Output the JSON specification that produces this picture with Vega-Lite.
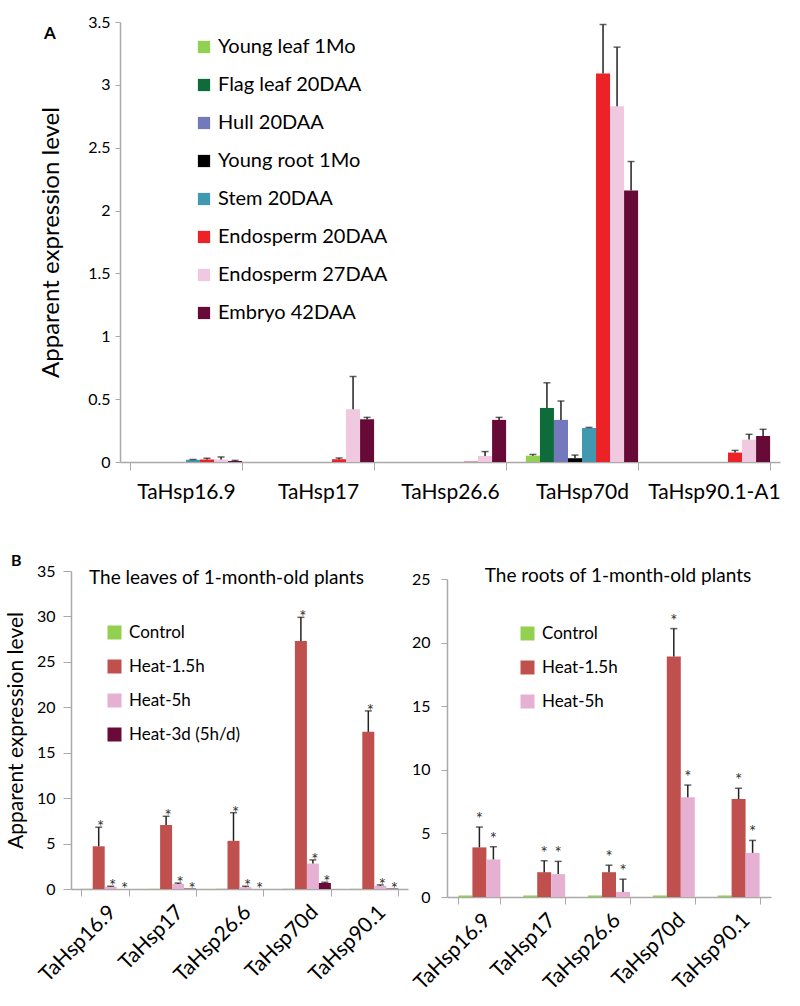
{
  "$schema": "https://vega.github.io/schema/vega-lite/v6.json",
  "padding": {"left": 5, "top": 14, "right": 5, "bottom": 5},
  "autosize": {"type": "pad"},
  "bounds": "flush",
  "spacing": 109,
  "config": {
    "font": "Lato",
    "view": {"stroke": null},
    "axis": {"grid": false, "domainColor": "#a9a9a9", "tickColor": "#a9a9a9", "labelColor": "#000000", "titleColor": "#000000", "titleFontWeight": "normal", "labelFont": "Lato", "titleFont": "Lato"},
    "legend": {"labelFont": "Lato", "labelColor": "#000000", "symbolType": "square", "symbolStrokeWidth": 0, "symbolOpacity": 1, "padding": 0, "labelLimit": 0},
    "title": {"font": "Lato", "color": "#000000"}
  },
  "datasets": {
    "a": [
      {"gene": "TaHsp16.9", "tissue": "Young leaf 1Mo", "v": 0},
      {"gene": "TaHsp16.9", "tissue": "Flag leaf  20DAA", "v": 0},
      {"gene": "TaHsp16.9", "tissue": "Hull 20DAA", "v": 0},
      {"gene": "TaHsp16.9", "tissue": "Young root 1Mo", "v": 0},
      {"gene": "TaHsp16.9", "tissue": "Stem 20DAA", "v": 0.018, "e": 0.02},
      {"gene": "TaHsp16.9", "tissue": "Endosperm 20DAA", "v": 0.02, "e": 0.03},
      {"gene": "TaHsp16.9", "tissue": "Endosperm 27DAA", "v": 0.02, "e": 0.04},
      {"gene": "TaHsp16.9", "tissue": "Embryo 42DAA", "v": 0.008, "e": 0.013},
      {"gene": "TaHsp17", "tissue": "Young leaf 1Mo", "v": 0},
      {"gene": "TaHsp17", "tissue": "Flag leaf  20DAA", "v": 0},
      {"gene": "TaHsp17", "tissue": "Hull 20DAA", "v": 0},
      {"gene": "TaHsp17", "tissue": "Young root 1Mo", "v": 0},
      {"gene": "TaHsp17", "tissue": "Stem 20DAA", "v": 0},
      {"gene": "TaHsp17", "tissue": "Endosperm 20DAA", "v": 0.022, "e": 0.032},
      {"gene": "TaHsp17", "tissue": "Endosperm 27DAA", "v": 0.42, "e": 0.68},
      {"gene": "TaHsp17", "tissue": "Embryo 42DAA", "v": 0.34, "e": 0.355},
      {"gene": "TaHsp26.6", "tissue": "Young leaf 1Mo", "v": 0},
      {"gene": "TaHsp26.6", "tissue": "Flag leaf  20DAA", "v": 0},
      {"gene": "TaHsp26.6", "tissue": "Hull 20DAA", "v": 0},
      {"gene": "TaHsp26.6", "tissue": "Young root 1Mo", "v": 0},
      {"gene": "TaHsp26.6", "tissue": "Stem 20DAA", "v": 0},
      {"gene": "TaHsp26.6", "tissue": "Endosperm 20DAA", "v": 0.003},
      {"gene": "TaHsp26.6", "tissue": "Endosperm 27DAA", "v": 0.048, "e": 0.083},
      {"gene": "TaHsp26.6", "tissue": "Embryo 42DAA", "v": 0.335, "e": 0.355},
      {"gene": "TaHsp70d", "tissue": "Young leaf 1Mo", "v": 0.05, "e": 0.06},
      {"gene": "TaHsp70d", "tissue": "Flag leaf  20DAA", "v": 0.43, "e": 0.63},
      {"gene": "TaHsp70d", "tissue": "Hull 20DAA", "v": 0.335, "e": 0.485},
      {"gene": "TaHsp70d", "tissue": "Young root 1Mo", "v": 0.03, "e": 0.055},
      {"gene": "TaHsp70d", "tissue": "Stem 20DAA", "v": 0.27, "e": 0.275},
      {"gene": "TaHsp70d", "tissue": "Endosperm 20DAA", "v": 3.09, "e": 3.48},
      {"gene": "TaHsp70d", "tissue": "Endosperm 27DAA", "v": 2.83, "e": 3.3},
      {"gene": "TaHsp70d", "tissue": "Embryo 42DAA", "v": 2.16, "e": 2.39},
      {"gene": "TaHsp90.1-A1", "tissue": "Young leaf 1Mo", "v": 0},
      {"gene": "TaHsp90.1-A1", "tissue": "Flag leaf  20DAA", "v": 0},
      {"gene": "TaHsp90.1-A1", "tissue": "Hull 20DAA", "v": 0},
      {"gene": "TaHsp90.1-A1", "tissue": "Young root 1Mo", "v": 0},
      {"gene": "TaHsp90.1-A1", "tissue": "Stem 20DAA", "v": 0},
      {"gene": "TaHsp90.1-A1", "tissue": "Endosperm 20DAA", "v": 0.075, "e": 0.092},
      {"gene": "TaHsp90.1-A1", "tissue": "Endosperm 27DAA", "v": 0.178, "e": 0.22},
      {"gene": "TaHsp90.1-A1", "tissue": "Embryo 42DAA", "v": 0.207, "e": 0.26}
    ],
    "bl": [
      {"gene": "TaHsp16.9", "trt": "Control", "v": 0.02},
      {"gene": "TaHsp16.9", "trt": "Heat-1.5h", "v": 4.7, "e": 6.8, "top": 6.8, "sig": "*"},
      {"gene": "TaHsp16.9", "trt": "Heat-5h", "v": 0.25, "e": 0.3, "top": 0.3, "sig": "*"},
      {"gene": "TaHsp16.9", "trt": "Heat-3d (5h/d)", "v": 0, "top": 0, "sig": "*"},
      {"gene": "TaHsp17", "trt": "Control", "v": 0.02},
      {"gene": "TaHsp17", "trt": "Heat-1.5h", "v": 7.05, "e": 8.0, "top": 8.0, "sig": "*"},
      {"gene": "TaHsp17", "trt": "Heat-5h", "v": 0.55, "e": 0.65, "top": 0.65, "sig": "*"},
      {"gene": "TaHsp17", "trt": "Heat-3d (5h/d)", "v": 0.05, "top": 0.05, "sig": "*"},
      {"gene": "TaHsp26.6", "trt": "Control", "v": 0.02},
      {"gene": "TaHsp26.6", "trt": "Heat-1.5h", "v": 5.3, "e": 8.4, "top": 8.4, "sig": "*"},
      {"gene": "TaHsp26.6", "trt": "Heat-5h", "v": 0.2, "e": 0.3, "top": 0.3, "sig": "*"},
      {"gene": "TaHsp26.6", "trt": "Heat-3d (5h/d)", "v": 0, "top": 0, "sig": "*"},
      {"gene": "TaHsp70d", "trt": "Control", "v": 0.02},
      {"gene": "TaHsp70d", "trt": "Heat-1.5h", "v": 27.3, "e": 29.9, "top": 29.9, "sig": "*"},
      {"gene": "TaHsp70d", "trt": "Heat-5h", "v": 2.8, "e": 3.2, "top": 3.2, "sig": "*"},
      {"gene": "TaHsp70d", "trt": "Heat-3d (5h/d)", "v": 0.65, "e": 0.75, "top": 0.75, "sig": "*"},
      {"gene": "TaHsp90.1", "trt": "Control", "v": 0.02},
      {"gene": "TaHsp90.1", "trt": "Heat-1.5h", "v": 17.3, "e": 19.6, "top": 19.6, "sig": "*"},
      {"gene": "TaHsp90.1", "trt": "Heat-5h", "v": 0.35, "e": 0.45, "top": 0.45, "sig": "*"},
      {"gene": "TaHsp90.1", "trt": "Heat-3d (5h/d)", "v": 0.05, "top": 0.05, "sig": "*"}
    ],
    "br": [
      {"gene": "TaHsp16.9", "trt": "Control", "v": 0.12},
      {"gene": "TaHsp16.9", "trt": "Heat-1.5h", "v": 3.9, "e": 5.5, "sig": "*"},
      {"gene": "TaHsp16.9", "trt": "Heat-5h", "v": 2.95, "e": 3.95, "sig": "*"},
      {"gene": "TaHsp17", "trt": "Control", "v": 0.12},
      {"gene": "TaHsp17", "trt": "Heat-1.5h", "v": 1.95, "e": 2.85, "sig": "*"},
      {"gene": "TaHsp17", "trt": "Heat-5h", "v": 1.8, "e": 2.8, "sig": "*"},
      {"gene": "TaHsp26.6", "trt": "Control", "v": 0.12},
      {"gene": "TaHsp26.6", "trt": "Heat-1.5h", "v": 1.95, "e": 2.5, "sig": "*"},
      {"gene": "TaHsp26.6", "trt": "Heat-5h", "v": 0.4, "e": 1.4, "sig": "*"},
      {"gene": "TaHsp70d", "trt": "Control", "v": 0.12},
      {"gene": "TaHsp70d", "trt": "Heat-1.5h", "v": 18.9, "e": 21.1, "sig": "*"},
      {"gene": "TaHsp70d", "trt": "Heat-5h", "v": 7.85, "e": 8.8, "sig": "*"},
      {"gene": "TaHsp90.1", "trt": "Control", "v": 0.12},
      {"gene": "TaHsp90.1", "trt": "Heat-1.5h", "v": 7.7, "e": 8.55, "sig": "*"},
      {"gene": "TaHsp90.1", "trt": "Heat-5h", "v": 3.47, "e": 4.45, "sig": "*"}
    ]
  },
  "resolve": {"scale": {"color": "independent", "x": "independent", "y": "independent", "xOffset": "independent"}, "legend": {"color": "independent"}, "axis": {"x": "independent", "y": "independent"}},
  "vconcat": [
    {
      "width": 709,
      "height": 440,
      "data": {"name": "a"},
      "title": {"text": "A", "anchor": "start", "frame": "group", "orient": "top", "offset": 0, "fontSize": 17, "fontWeight": "bold", "dx": -27, "dy": 29},
      "encoding": {
        "x": {"field": "gene", "type": "nominal",
              "scale": {"domain": ["TaHsp16.9", "TaHsp17", "TaHsp26.6", "TaHsp70d", "TaHsp90.1-A1"], "range": [49, 709], "paddingInner": 0.15, "paddingOuter": 0.075},
              "axis": {"title": null, "labelAngle": 0, "labelFontSize": 21, "tickBand": "extent", "tickSize": 8, "labelPadding": 11, "domainWidth": 1.5}},
        "xOffset": {"field": "tissue", "type": "nominal", "scale": {"domain": ["Young leaf 1Mo", "Flag leaf  20DAA", "Hull 20DAA", "Young root 1Mo", "Stem 20DAA", "Endosperm 20DAA", "Endosperm 27DAA", "Embryo 42DAA"], "paddingInner": 0, "paddingOuter": 0}}
      },
      "layer": [
        {
          "mark": {"type": "bar"},
          "encoding": {
            "y": {"field": "v", "type": "quantitative", "scale": {"domain": [0, 3.5], "nice": false},
                  "axis": {"title": "Apparent expression level", "titleFontSize": 24, "titlePadding": 24, "offset": -49, "values": [0, 0.5, 1, 1.5, 2, 2.5, 3, 3.5], "format": "~g", "labelFontSize": 16, "tickSize": 5, "labelPadding": 5, "domainWidth": 1.5}},
            "color": {"field": "tissue", "type": "nominal",
                      "scale": {"domain": ["Young leaf 1Mo", "Flag leaf  20DAA", "Hull 20DAA", "Young root 1Mo", "Stem 20DAA", "Endosperm 20DAA", "Endosperm 27DAA", "Embryo 42DAA"],
                                "range": ["#92d050", "#0e6b3a", "#7479bb", "#000000", "#4199b1", "#ec2227", "#f0c8e0", "#680a38"]},
                      "legend": {"orient": "none", "legendX": 123, "legendY": 15, "title": null, "labelFontSize": 20, "symbolSize": 150, "rowPadding": 18, "labelOffset": 4}}
          }
        },
        {
          "transform": [{"filter": "isValid(datum.e)"}],
          "mark": {"type": "rule", "color": "#222222", "strokeWidth": 1.5},
          "encoding": {"y": {"field": "v", "type": "quantitative"}, "y2": {"field": "e"}}
        },
        {
          "transform": [{"filter": "isValid(datum.e)"}],
          "mark": {"type": "tick", "color": "#222222", "thickness": 1.5, "size": 7},
          "encoding": {"y": {"field": "e", "type": "quantitative"}}
        }
      ]
    },
    {
      "bounds": "flush",
      "spacing": 39,
      "title": {"text": "B", "anchor": "start", "frame": "group", "orient": "top", "offset": 0, "fontSize": 16, "fontWeight": "bold", "dx": -60, "dy": 6},
      "resolve": {"scale": {"color": "independent", "x": "independent", "y": "independent", "xOffset": "independent"}, "legend": {"color": "independent"}, "axis": {"x": "independent", "y": "independent"}},
      "hconcat": [
        {
          "width": 337,
          "height": 318,
          "data": {"name": "bl"},
          "title": {"text": "The leaves of 1-month-old plants", "anchor": "middle", "frame": "group", "offset": 0, "fontSize": 19, "fontWeight": "normal", "dx": -13, "dy": 25},
          "encoding": {
            "x": {"field": "gene", "type": "nominal",
                  "scale": {"domain": ["TaHsp16.9", "TaHsp17", "TaHsp26.6", "TaHsp70d", "TaHsp90.1"], "paddingInner": 0.288, "paddingOuter": 0.144},
                  "axis": {"title": null, "labelAngle": -45, "labelAlign": "right", "labelBaseline": "top", "labelFontSize": 21, "tickBand": "extent", "tickSize": 7, "labelPadding": 5, "domainWidth": 1.5}},
            "xOffset": {"field": "trt", "type": "nominal", "scale": {"domain": ["Control", "Heat-1.5h", "Heat-5h", "Heat-3d (5h/d)"], "paddingInner": 0, "paddingOuter": 0}}
          },
          "layer": [
            {
              "mark": {"type": "bar"},
              "encoding": {
                "y": {"field": "v", "type": "quantitative", "scale": {"domain": [0, 35], "nice": false},
                      "axis": {"title": "Apparent expression level", "titleFontSize": 21, "titlePadding": 10, "values": [0, 5, 10, 15, 20, 25, 30, 35], "labelFontSize": 16, "tickSize": 8, "labelPadding": 8, "domainWidth": 1.5}},
                "color": {"field": "trt", "type": "nominal",
                          "scale": {"domain": ["Control", "Heat-1.5h", "Heat-5h", "Heat-3d (5h/d)"], "range": ["#92d050", "#c0504d", "#e6b0d2", "#6a0a38"]},
                          "legend": {"orient": "none", "legendX": 35, "legendY": 53, "title": null, "labelFontSize": 17, "symbolSize": 196, "rowPadding": 16, "labelOffset": 6}}
              }
            },
            {
              "transform": [{"filter": "isValid(datum.e)"}],
              "mark": {"type": "rule", "color": "#222222", "strokeWidth": 1.5},
              "encoding": {"y": {"field": "v", "type": "quantitative"}, "y2": {"field": "e"}}
            },
            {
              "transform": [{"filter": "isValid(datum.e)"}],
              "mark": {"type": "tick", "color": "#222222", "thickness": 1.5, "size": 7},
              "encoding": {"y": {"field": "e", "type": "quantitative"}}
            },
            {
              "transform": [{"filter": "isValid(datum.sig)"}],
              "mark": {"type": "text", "fontSize": 17, "fill": "#333333", "color": "#333333", "baseline": "alphabetic", "dy": 6, "dx": 2},
              "encoding": {"y": {"field": "top", "type": "quantitative"}, "text": {"field": "sig"}}
            }
          ]
        },
        {
          "width": 324,
          "height": 326,
          "data": {"name": "br"},
          "title": {"text": "The roots of 1-month-old plants", "anchor": "middle", "frame": "group", "offset": 0, "fontSize": 19, "fontWeight": "normal", "dx": 9, "dy": 15},
          "encoding": {
            "x": {"field": "gene", "type": "nominal",
                  "scale": {"domain": ["TaHsp16.9", "TaHsp17", "TaHsp26.6", "TaHsp70d", "TaHsp90.1"], "paddingInner": 0.352, "paddingOuter": 0.176},
                  "axis": {"title": null, "labelAngle": -45, "labelAlign": "right", "labelBaseline": "top", "labelFontSize": 21, "tickBand": "extent", "tickSize": 7, "labelPadding": 5, "domainWidth": 1.5}},
            "xOffset": {"field": "trt", "type": "nominal", "scale": {"domain": ["Control", "Heat-1.5h", "Heat-5h"], "paddingInner": 0, "paddingOuter": 0}}
          },
          "layer": [
            {
              "mark": {"type": "bar"},
              "encoding": {
                "y": {"field": "v", "type": "quantitative", "scale": {"domain": [0, 25], "nice": false, "range": [326, 8]},
                      "axis": {"title": null, "values": [0, 5, 10, 15, 20, 25], "labelFontSize": 16, "tickSize": 6, "labelPadding": 11, "domainWidth": 1.5}},
                "color": {"field": "trt", "type": "nominal",
                          "scale": {"domain": ["Control", "Heat-1.5h", "Heat-5h"], "range": ["#92d050", "#c0504d", "#e6b0d2"]},
                          "legend": {"orient": "none", "legendX": 72, "legendY": 54, "title": null, "labelFontSize": 17, "symbolSize": 196, "rowPadding": 16, "labelOffset": 6}}
              }
            },
            {
              "transform": [{"filter": "isValid(datum.e)"}],
              "mark": {"type": "rule", "color": "#222222", "strokeWidth": 1.5},
              "encoding": {"y": {"field": "v", "type": "quantitative"}, "y2": {"field": "e"}}
            },
            {
              "transform": [{"filter": "isValid(datum.e)"}],
              "mark": {"type": "tick", "color": "#222222", "thickness": 1.5, "size": 7},
              "encoding": {"y": {"field": "e", "type": "quantitative"}}
            },
            {
              "transform": [{"filter": "isValid(datum.sig)"}],
              "mark": {"type": "text", "fontSize": 17, "fill": "#333333", "color": "#333333", "baseline": "alphabetic", "dy": -2},
              "encoding": {"y": {"field": "e", "type": "quantitative"}, "text": {"field": "sig"}}
            }
          ]
        }
      ]
    }
  ]
}
